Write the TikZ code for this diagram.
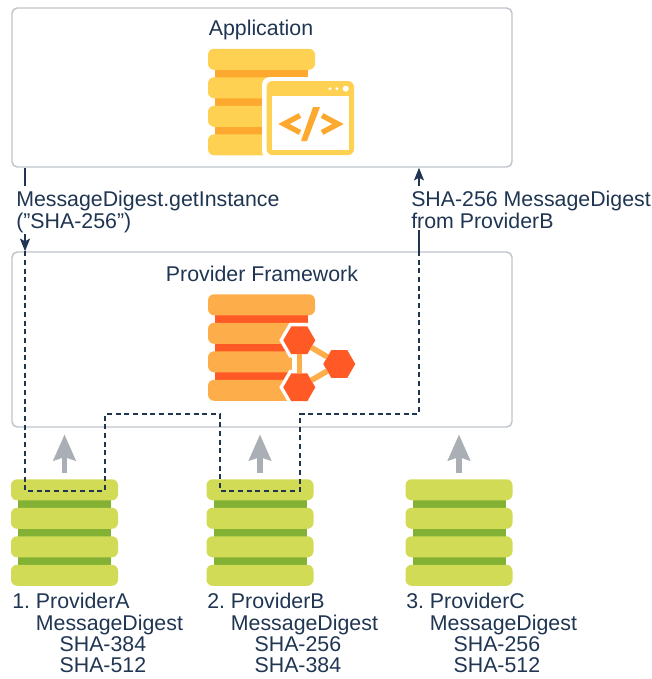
\documentclass[tikz,border=0pt]{standalone}
\usepackage{fontspec}
\setmainfont{Liberation Sans}
\usetikzlibrary{arrows.meta,shapes.geometric}

\definecolor{ink}{HTML}{1F3552}
\definecolor{panel edge}{HTML}{BFC5CB}
\definecolor{up arrow}{HTML}{A9AFB5}
\definecolor{app light}{HTML}{FFD152}
\definecolor{app dark}{HTML}{FDA92F}
\definecolor{fw light}{HTML}{FDAE4B}
\definecolor{fw dark}{HTML}{FF5A26}
\definecolor{prov light}{HTML}{D2DB55}
\definecolor{prov dark}{HTML}{82B133}

\tikzset{
  panel/.style={draw=panel edge, line width=1.1pt, rounded corners=4pt, minimum width=375pt, inner sep=0pt},
  stackbox/.style={minimum width=80.25pt, minimum height=79.9pt, inner sep=0pt},
  label/.style={text=ink, font=\fontsize{16}{16}\selectfont\frenchspacing, inner sep=0pt, align=left},
  wire/.style={draw=ink, line width=1.1pt},
  route/.style={wire, dash pattern=on 3.8pt off 2.7pt},
  tipped/.style={wire, -{Stealth[length=9.5pt,width=7.5pt,inset=2pt]}},
  pull/.style={draw=up arrow, line width=4.2pt, -{Stealth[length=19.5pt,width=16.5pt,inset=2.5pt]}, shorten >=5pt, shorten <=4.5pt},
  hexnode/.style={regular polygon, regular polygon sides=6, fill=fw dark, minimum size=24pt, inner sep=0pt, outer sep=0pt},
  hexhalo/.style={regular polygon, regular polygon sides=6, fill=white, minimum size=30pt, inner sep=0pt, outer sep=0pt},
  hexlink/.style={draw=fw light, line width=4.2pt}
}

% four bars on a darker core, (#2) is the middle of the stack
\newcommand{\stackicon}[4]{
  \node[stackbox] (#1) at (#2) {};
  \begin{scope}[shift={(#2)}]
    \fill[#4] (-46.5,-53) rectangle (46.5,53);
    \foreach \top in {-53.25,-24.75,3.75,32.25} {
      \fill[#3, rounded corners=4.5pt] (-53.5,\top) rectangle (53.5,\top+21);
    }
  \end{scope}
}

\begin{document}
\begin{tikzpicture}[x=0.75pt,y=-0.75pt]
  \useasboundingbox (0,0) rectangle (652,679);

  \node[panel, minimum height=119.25pt] (app) at (262,87.5) {};
  \node[panel, minimum height=131.25pt] (frame) at (262,339.5) {};
  \node[label] (apptitle) at (261,30) {Application};
  \node[label] (frametitle) at (262,274) {Provider Framework};

  % application icon
  \stackicon{appstack}{261.5,102}{app light}{app dark}
  \fill[white, rounded corners=6pt] (262,77) rectangle (358,159);
  \fill[app light, rounded corners=4.5pt] (266.5,81) rectangle (354,155);
  \fill[white] (271.7,96) rectangle (349,150);
  \fill[white] (345.7,88.7) circle (3);
  \foreach \dotx in {337,330} {
    \fill[white] (\dotx,88.7) circle (1.7);
  }
  \draw[app dark, line width=4pt] (300,115.5) -- (284,124) -- (300,132.5);
  \draw[app dark, line width=4pt] (322,115.5) -- (338,124) -- (322,132.5);
  \fill[app dark] (313,107) -- (320,107) -- (307,141) -- (301,141) -- cycle;

  % framework icon
  \stackicon{fwstack}{261.5,347.5}{fw light}{fw dark}
  \fill[white] (292,345) rectangle (320,402);
  \fill[white] (300,323.3) rectangle (320,345);
  \node[hexhalo] (haloA) at (299.3,340.3) {};
  \node[hexhalo] (haloC) at (299.3,387.3) {};
  \node[hexnode] (hexA) at (299.3,340.3) {};
  \node[hexnode] (hexB) at (339.3,364) {};
  \node[hexnode] (hexC) at (299.3,387.3) {};
  \foreach \a/\b in {hexA/hexB, hexB/hexC, hexA/hexC} {
    \draw[hexlink] (\a) -- (\b);
  }

  % providers
  \foreach \name/\xpos/\labx/\num/\letter/\shaone/\shatwo in {
      provA/64.5/12/1/A/384/512,
      provB/260/207/2/B/256/384,
      provC/459/406/3/C/256/512} {
    \stackicon{\name}{\xpos,532.5}{prov light}{prov dark}
    \node[label, anchor=north west] (\name text) at (\labx,593)
      {\num. Provider\letter\\\hspace*{1.11em}MessageDigest\\\hspace*{2.22em}SHA-\shaone\\\hspace*{2.22em}SHA-\shatwo};
    \draw[pull] (\name.north) -- (\name.north |- frame.south);
  }

  \node[label, anchor=north west] (reqtext) at (16,191) {MessageDigest.getInstance\\(”SHA-256”)};
  \node[label, anchor=north west] (resptext) at (411,191) {SHA-256 MessageDigest\\from ProviderB};

  \coordinate (reqx) at (25,0);
  \coordinate (respx) at (419,0);
  \coordinate (lowA) at (25,491);
  \coordinate (lowB) at (105,491);
  \coordinate (highA) at (105,414);
  \coordinate (highB) at (220,414);
  \coordinate (lowC) at (220,491);
  \coordinate (lowD) at (300,491);
  \coordinate (highC) at (300,414);
  \coordinate (highD) at (419,414);

  \draw[wire] (reqx |- app.south) -- ([yshift=4pt]reqx |- reqtext.north);
  \draw[tipped] ([yshift=-1pt]reqx |- reqtext.south) -- (reqx |- frame.north);
  \draw[route] (reqx |- frame.north) -- (lowA) -- (lowB) -- (highA) -- (highB)
    -- (lowC) -- (lowD) -- (highC) -- (highD) -- (respx |- frame.north);
  \draw[wire] (respx |- frame.north) -- ([yshift=-1pt]respx |- resptext.south);
  \draw[tipped] ([yshift=4pt]respx |- resptext.north) -- (respx |- app.south);
\end{tikzpicture}
\end{document}
